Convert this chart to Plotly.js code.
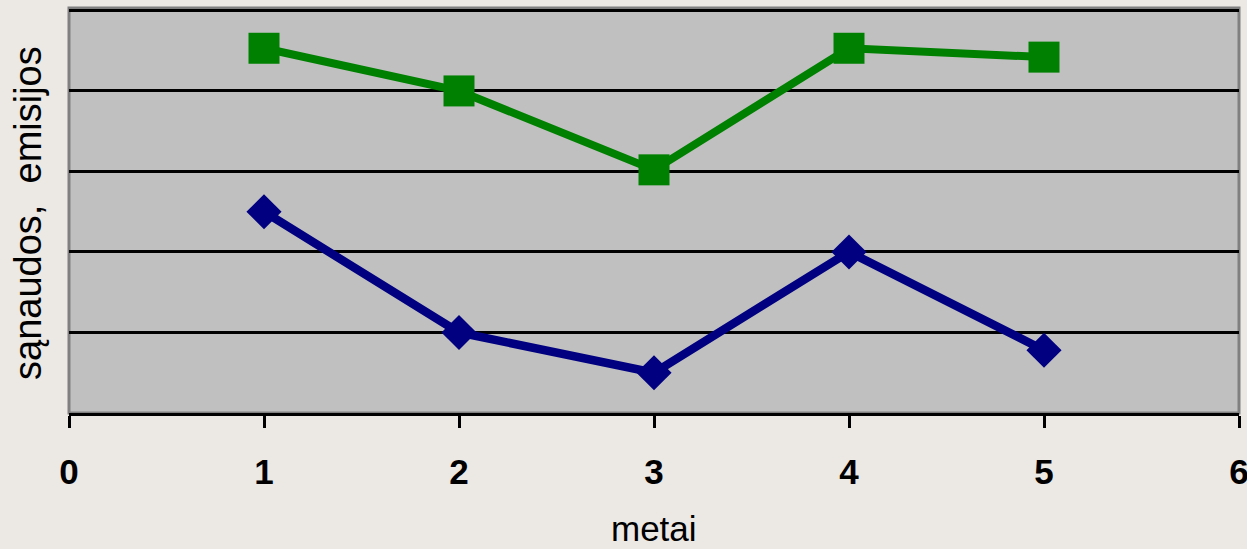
<!DOCTYPE html>
<html>
<head>
<meta charset="utf-8">
<script src="https://cdn.plot.ly/plotly-3.0.1.min.js"></script>
<style>html,body{margin:0;padding:0;background:#ECE8E4;}</style>
</head>
<body>
<div id="chart" style="width:1247px;height:549px;"></div>
<script>
const years = [1, 2, 3, 4, 5];
const emisijos = [4.53, 4.0, 3.02, 4.53, 4.42];
const sanaudos = [2.5, 1.0, 0.5, 2.0, 0.78];
const xTicks = [0, 1, 2, 3, 4, 5, 6];
const xTickLabels = ['0', '1', '2', '3', '4', '5', '6'];
const xTitle = 'metai';
const yTitle = 'sąnaudos,  emisijos';

const narrow = 'Liberation Sans Narrow, Arial Narrow, Liberation Sans, Arial, sans-serif';
const sans = 'Liberation Sans, Arial, sans-serif';

const traces = [
  {
    x: years, y: sanaudos, type: 'scatter', mode: 'lines+markers',
    line: {color: '#000080', width: 8.5},
    marker: {symbol: 'diamond', size: 27, color: '#000080'},
    showlegend: false, hoverinfo: 'x+y'
  },
  {
    x: years, y: emisijos, type: 'scatter', mode: 'lines+markers',
    line: {color: '#008000', width: 8},
    marker: {symbol: 'square', size: 31, color: '#008000'},
    showlegend: false, hoverinfo: 'x+y'
  }
];

const layout = {
  width: 1247, height: 549,
  margin: {l: 69, r: 8, t: 8, b: 136, pad: 0},
  paper_bgcolor: '#ECE8E4',
  plot_bgcolor: '#C0C0C0',
  showlegend: false,
  xaxis: {
    range: [0, 6], tickmode: 'array', tickvals: xTicks, ticktext: xTickLabels,
    showgrid: false, zeroline: false,
    showline: true, linecolor: '#000000', linewidth: 3,
    ticks: 'outside', ticklen: 12, tickwidth: 3, tickcolor: '#000000',
    ticklabelstandoff: 14, ticklabeloverflow: 'allow',
    tickfont: {family: narrow, size: 35, color: '#000000', weight: 'bold'},
    automargin: false, fixedrange: true
  },
  yaxis: {
    range: [0, 5.03], dtick: 1, tick0: 0,
    showticklabels: false, ticks: '',
    showgrid: true, gridcolor: '#000000', gridwidth: 3,
    zeroline: false, showline: false,
    automargin: false, fixedrange: true
  },
  annotations: [
    {text: xTitle, xref: 'paper', yref: 'paper', x: 0.5, y: -0.3358,
     xanchor: 'center', yanchor: 'bottom', showarrow: false, borderpad: 0,
     font: {family: sans, size: 35, color: '#000000'}},
    {text: yTitle, xref: 'paper', yref: 'paper', x: -0.035, y: 0.494,
     xanchor: 'center', yanchor: 'middle', showarrow: false, textangle: -90,
     font: {family: sans, size: 38, color: '#000000'}}
  ],
  shapes: [
    {type: 'rect', xref: 'paper', yref: 'paper', x0: 0, x1: 1, y0: 0, y1: 1,
     line: {color: '#808080', width: 3}, layer: 'below'}
  ]
};

Plotly.newPlot('chart', traces, layout, {displayModeBar: false, staticPlot: true});
</script>
</body>
</html>
